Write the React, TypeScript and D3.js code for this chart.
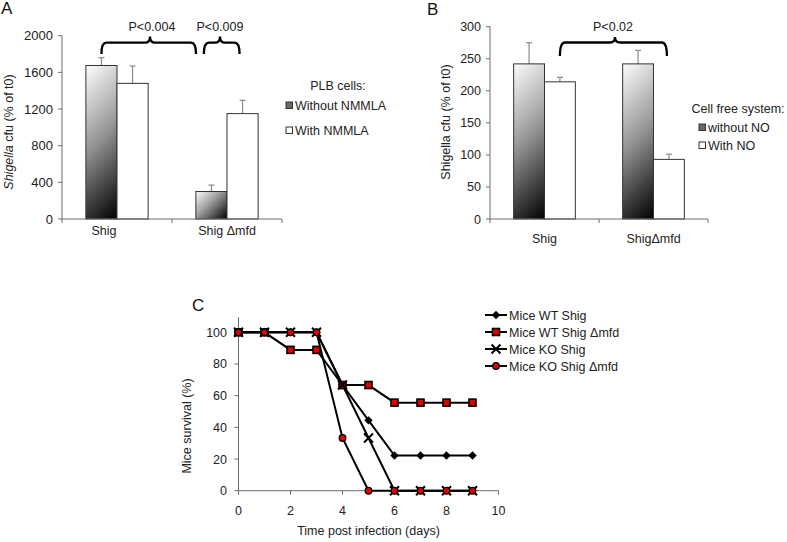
import React from 'react';
import * as d3 from 'd3';

// Panel A data
const groupsA = ['Shig', 'Shig Δmfd'];
const seriesA = ['Without NMMLA', 'With NMMLA'];
const valuesA = [[1675, 1480], [300, 1150]];
const errorsA = [[85, 190], [70, 145]];
const ticksA = [0, 400, 800, 1200, 1600, 2000];
const pA = ['P<0.004', 'P<0.009'];

// Panel B data
const groupsB = ['Shig', 'ShigΔmfd'];
const seriesB = ['without NO', 'With NO'];
const valuesB = [[242, 214], [242, 93]];
const errorsB = [[33, 7], [21, 8]];
const ticksB = [0, 50, 100, 150, 200, 250, 300];
const pB = ['P<0.02'];

// Panel C data
const days = [0, 1, 2, 3, 4, 5, 6, 7, 8, 9];
const wtShig = [100, 100, 100, 100, 66.7, 44.4, 22.2, 22.2, 22.2, 22.2];
const wtShigMfd = [100, 100, 88.9, 88.9, 66.7, 66.7, 55.6, 55.6, 55.6, 55.6];
const koShig = [100, 100, 100, 100, 66.7, 33.3, 0, 0, 0, 0];
const koShigMfd = [100, 100, 100, 100, 33.3, 0, 0, 0, 0, 0];
const seriesC = ['Mice WT Shig', 'Mice WT Shig Δmfd', 'Mice KO Shig', 'Mice KO Shig Δmfd'];
const ticksCx = [0, 2, 4, 6, 8, 10];
const ticksCy = [0, 20, 40, 60, 80, 100];

const FONT = '"Liberation Sans", Arial, sans-serif';
const AXIS = '#6d6d6d';

function bracket(x1: number, x2: number, xm: number, yTop: number, yEnd: number, yPeak: number) {
  const r = 5;
  return `M${x1},${yEnd} Q${x1},${yTop} ${x1 + r},${yTop} L${xm - r},${yTop} Q${xm},${yTop} ${xm},${yPeak} Q${xm},${yTop} ${xm + r},${yTop} L${x2 - r},${yTop} Q${x2},${yTop} ${x2},${yEnd}`;
}

function BarPanel(props: any) {
  const { id, groups, values, errors, ticks, x0, x1, yMax, yTopPx, tickFont, catBaseline, catDx } = props;
  const x = d3.scaleBand<string>().domain(groups).range([x0, x1]).paddingInner(0).paddingOuter(0);
  const y = d3.scaleLinear().domain([0, yMax]).range([219, yTopPx]);
  const bw = x.bandwidth() * 0.283;
  const labelX = x0 - 9;
  return (
    <g>
      {/* bars */}
      {groups.map((g: string, gi: number) => {
        const c = (x(g) as number) + x.bandwidth() / 2;
        return values[gi].map((v: number, si: number) => {
          const bx = si === 0 ? c - bw : c;
          const top = y(v);
          const h = y(0) - top;
          const etop = y(v + errors[gi][si]);
          const gid = `${id}-g${gi}`;
          const span = (bw + h) / 2;
          return (
            <g key={g + si}>
              {si === 0 && (
                <defs>
                  <linearGradient id={gid} gradientUnits="userSpaceOnUse" x1={bx} y1={top} x2={bx + span} y2={top + span}>
                    <stop offset="0" stopColor="#fdfdfd" />
                    <stop offset="0.45" stopColor="#9a9a9a" />
                    <stop offset="1" stopColor="#000" />
                  </linearGradient>
                </defs>
              )}
              <line x1={bx + bw / 2} x2={bx + bw / 2} y1={top} y2={etop} stroke="#8a8a8a" strokeWidth={1.2} />
              <line x1={bx + bw / 2 - 3} x2={bx + bw / 2 + 3} y1={etop} y2={etop} stroke="#8a8a8a" strokeWidth={1.2} />
              <rect x={bx} y={top} width={bw} height={h}
                fill={si === 0 ? `url(#${gid})` : '#fff'} stroke="#333" strokeWidth={1} />
            </g>
          );
        });
      })}
      {/* axes */}
      <line x1={x0} x2={x0} y1={y(yMax)} y2={y(0)} stroke={AXIS} strokeWidth={1} />
      <line x1={x0} x2={x1} y1={y(0)} y2={y(0)} stroke={AXIS} strokeWidth={1} />
      {ticks.map((t: number) => (
        <g key={t}>
          <line x1={x0 - 4} x2={x0} y1={y(t)} y2={y(t)} stroke={AXIS} />
          <text x={labelX} y={y(t) + 4.5} textAnchor="end" fontSize={tickFont} fontFamily={FONT} fill="#222">{t}</text>
        </g>
      ))}
      {[x0, ...groups.map((g: string) => (x(g) as number) + x.bandwidth())].map((xx: number, i: number) => (
        <line key={i} x1={xx} x2={xx} y1={y(0)} y2={y(0) + 4} stroke={AXIS} />
      ))}
      {groups.map((g: string, gi: number) => (
        <text key={g} x={(x(g) as number) + x.bandwidth() / 2 + (gi === 0 ? catDx : 0)} y={catBaseline}
          textAnchor="middle" fontSize={12.5} fontFamily={FONT} fill="#222">{g}</text>
      ))}
    </g>
  );
}

export default function App() {
  const xA = d3.scaleBand<string>().domain(groupsA).range([62, 282]);
  const bwA = xA.bandwidth() * 0.283;
  const cA = (g: string) => (xA(g) as number) + xA.bandwidth() / 2;
  const xB = d3.scaleBand<string>().domain(groupsB).range([490, 708]);
  const bwB = xB.bandwidth() * 0.283;
  const cB = (g: string) => (xB(g) as number) + xB.bandwidth() / 2;

  const xC = d3.scaleLinear().domain([0, 10]).range([238.5, 498.5]);
  const yC = d3.scaleLinear().domain([0, 100]).range([490.7, 332.3]);
  const lineC = d3.line<number>().x((_, i) => xC(days[i])).y((d) => yC(d));
  const dataC = [wtShig, wtShigMfd, koShig, koShigMfd];

  const marker = (k: number, cx: number, cy: number, key: string) => {
    if (k === 0) {
      const s = 4.2;
      return <path key={key} d={`M${cx},${cy - s} L${cx + s},${cy} L${cx},${cy + s} L${cx - s},${cy} Z`} fill="#000" />;
    }
    if (k === 1) {
      return <rect key={key} x={cx - 3.5} y={cy - 3.5} width={7} height={7} fill="#e00000" stroke="#000" strokeWidth={1.6} />;
    }
    if (k === 2) {
      const s = 4.5;
      return (
        <path key={key} d={`M${cx - s},${cy - s} L${cx + s},${cy + s} M${cx - s},${cy + s} L${cx + s},${cy - s}`}
          stroke="#000" strokeWidth={2} />
      );
    }
    return <circle key={key} cx={cx} cy={cy} r={3.3} fill="#e00000" stroke="#000" strokeWidth={1.3} />;
  };

  return (
    <svg width={787} height={542} style={{ position: 'absolute', left: 0, top: 0, background: '#fff' }}>
      <rect x={0} y={0} width={787} height={542} fill="#fff" />

      {/* Panel A */}
      <text x={1} y={14} fontSize={17} fontFamily={FONT} fill="#111">A</text>
      <BarPanel id="A" groups={groupsA} values={valuesA} errors={errorsA} ticks={ticksA} x0={62} x1={282}
        yMax={2000} yTopPx={35.7} tickFont={13} catBaseline={235} catDx={-13} />
      <text transform="translate(13,132) rotate(-90)" textAnchor="middle" fontSize={12.5} fontFamily={FONT} fill="#222">
        <tspan fontStyle="italic">Shigella</tspan> cfu (% of  t0)
      </text>
      <path d={bracket(cA(groupsA[0]) - bwA / 2, (xA(groupsA[1]) as number) + 24, 150, 42.7, 54, 36.5)}
        fill="none" stroke="#000" strokeWidth={2.3} />
      <path d={bracket(cA(groupsA[1]) - bwA + 8, cA(groupsA[1]) + bwA / 2 - 3, 220, 42.7, 54, 36.5)}
        fill="none" stroke="#000" strokeWidth={2.3} />
      <text x={152} y={31} textAnchor="middle" fontSize={12.5} fontFamily={FONT} fill="#222">{pA[0]}</text>
      <text x={220} y={31} textAnchor="middle" fontSize={12.5} fontFamily={FONT} fill="#222">{pA[1]}</text>
      <text x={338} y={90} textAnchor="middle" fontSize={12.5} fontFamily={FONT} fill="#222">PLB cells:</text>
      {seriesA.map((s, i) => (
        <g key={s}>
          <rect x={286} y={[102, 127][i]} width={6.5} height={6.5} fill={i === 0 ? '#6a6a6a' : '#fff'} stroke="#333" strokeWidth={1} />
          <text x={295} y={[110, 135][i]} fontSize={12.5} fontFamily={FONT} fill="#222">{s}</text>
        </g>
      ))}

      {/* Panel B */}
      <text x={427} y={15} fontSize={17} fontFamily={FONT} fill="#111">B</text>
      <BarPanel id="B" groups={groupsB} values={valuesB} errors={errorsB} ticks={ticksB} x0={490} x1={708}
        yMax={300} yTopPx={26.7} tickFont={12.5} catBaseline={243} catDx={0} />
      <text transform="translate(450,122) rotate(-90)" textAnchor="middle" fontSize={12.5} fontFamily={FONT} fill="#222">
        Shigella cfu (% of  t0)
      </text>
      <path d={bracket(cB(groupsB[0]) + bwB / 2, cB(groupsB[1]) + bwB / 2 - 2, 615, 42.5, 56, 37)}
        fill="none" stroke="#000" strokeWidth={2.3} />
      <text x={613} y={31} textAnchor="middle" fontSize={12.5} fontFamily={FONT} fill="#222">{pB[0]}</text>
      <text x={738} y={113} textAnchor="middle" fontSize={12.5} fontFamily={FONT} fill="#222">Cell free system:</text>
      {seriesB.map((s, i) => (
        <g key={s}>
          <rect x={699} y={[124, 142][i]} width={6.5} height={6.5} fill={i === 0 ? '#6a6a6a' : '#fff'} stroke="#333" strokeWidth={1} />
          <text x={708} y={[132, 150][i]} fontSize={12.5} fontFamily={FONT} fill="#222">{s}</text>
        </g>
      ))}

      {/* Panel C */}
      <text x={192} y={311} fontSize={17} fontFamily={FONT} fill="#111">C</text>
      <line x1={xC(0)} x2={xC(0)} y1={yC(100) - 15} y2={yC(0)} stroke={AXIS} />
      <line x1={xC(0)} x2={xC(10)} y1={yC(0)} y2={yC(0)} stroke={AXIS} />
      {ticksCy.map((t) => (
        <g key={'cy' + t}>
          <line x1={xC(0) - 4} x2={xC(0)} y1={yC(t)} y2={yC(t)} stroke={AXIS} />
          <text x={227} y={yC(t) + 4.5} textAnchor="end" fontSize={12.5} fontFamily={FONT} fill="#222">{t}</text>
        </g>
      ))}
      {ticksCx.map((t) => (
        <g key={'cx' + t}>
          <line x1={xC(t)} x2={xC(t)} y1={yC(0)} y2={yC(0) + 4} stroke={AXIS} />
          <text x={xC(t)} y={515} textAnchor="middle" fontSize={12.5} fontFamily={FONT} fill="#222">{t}</text>
        </g>
      ))}
      <text x={(xC(0) + xC(10)) / 2} y={535} textAnchor="middle" fontSize={12.5} fontFamily={FONT} fill="#222">Time post infection (days)</text>
      <text transform="translate(191,426) rotate(-90)" textAnchor="middle" fontSize={12.5} fontFamily={FONT} fill="#222">Mice survival (%)</text>
      {dataC.map((d, k) => (
        <path key={'l' + k} d={lineC(d) as string} fill="none" stroke="#000" strokeWidth={2} />
      ))}
      {dataC.map((d, k) => d.map((v, i) => marker(k, xC(days[i]), yC(v), `m${k}-${i}`)))}
      {seriesC.map((s, i) => {
        const cy = 315 + i * 17;
        return (
          <g key={s}>
            <line x1={485} x2={507} y1={cy} y2={cy} stroke="#000" strokeWidth={2} />
            {marker(i, 496, cy, 'lg' + i)}
            <text x={509} y={cy + 4.5} fontSize={12.5} fontFamily={FONT} fill="#222">{s}</text>
          </g>
        );
      })}
    </svg>
  );
}
